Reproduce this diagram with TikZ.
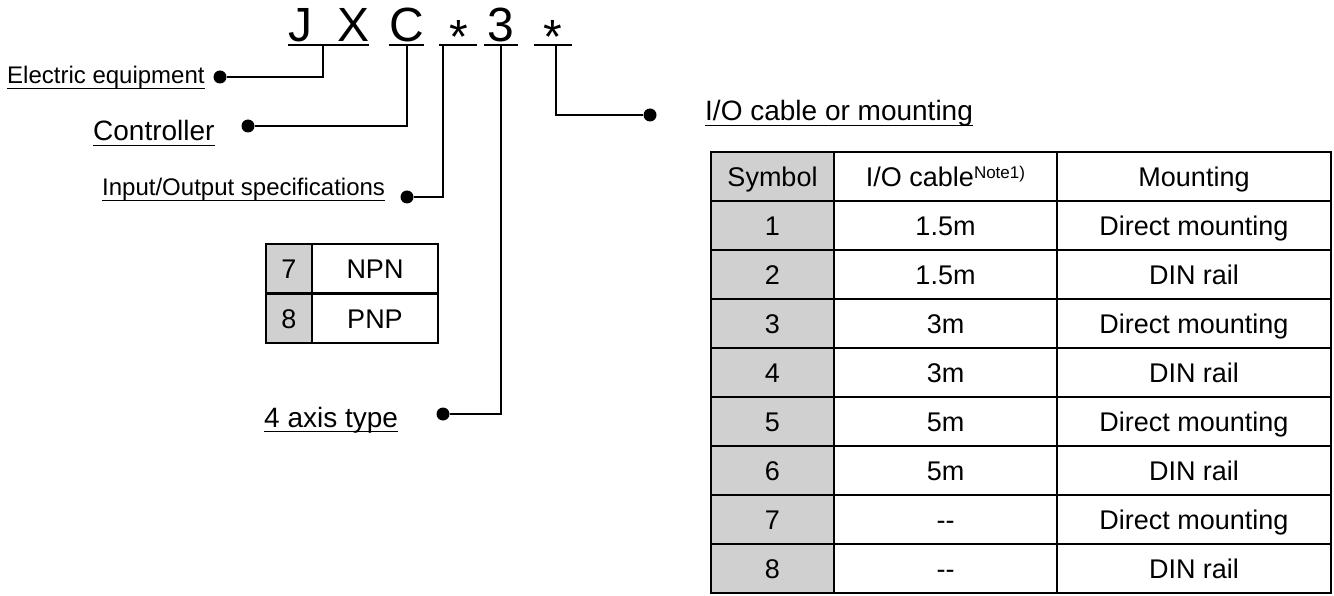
\documentclass[tikz,border=0pt]{standalone}
\usepackage{fontspec}
\setmainfont{Liberation Sans}
\definecolor{cellgray}{RGB}{208,208,208}
\newcommand\mydash{{-}{-}}
\begin{document}
\begin{tikzpicture}[x=1pt,y=-1pt,
  big/.style={font=\fontsize{48}{50}\selectfont, inner sep=0pt, anchor=base},
  lbl/.style={font=\fontsize{28}{30}\selectfont, inner sep=0pt, anchor=base west},
  lbls/.style={font=\fontsize{24}{26}\selectfont, inner sep=0pt, anchor=base west},
  cell/.style={font=\fontsize{27}{30}\selectfont, inner sep=0pt, anchor=base},
  uline/.style={line width=2pt},
  conn/.style={line width=2pt},
  grid/.style={line width=2.5pt},
  dot/.style={circle, fill=black, inner sep=0pt, minimum size=13pt}]
\useasboundingbox (0,0) rectangle (1334,596);

% code letters
\node[big] (cJ) at (300,42) {J};
\node[big] (cX) at (354,42) {X};
\node[big] (cC) at (407,42) {C};
\node[big] (cA1) at (459,42) {\raisebox{-12pt}{*}};
\node[big] (c3) at (501,42) {3};
\node[big] (cA2) at (553,42) {\raisebox{-12pt}{*}};
\draw[uline] (288,45.5) -- (369,45.5);
\draw[uline] (389,45.5) -- (424,45.5);
\draw[uline] (439,45.5) -- (477,45.5);
\draw[uline] (484,45.5) -- (518,45.5);
\draw[uline] (534,45.5) -- (572,45.5);

% stems
\coordinate (sJ) at (323,45.5);
\coordinate (sC) at (407,45.5);
\coordinate (sA1) at (443,45.5);
\coordinate (s3) at (501,45.5);
\coordinate (sA2) at (556,45.5);

% dots
\node[dot] (dE) at (220,77) {};
\node[dot] (dC) at (248,126) {};
\node[dot] (dI) at (407,197) {};
\node[dot] (dF) at (443,414) {};
\node[dot] (dO) at (650,115) {};

\draw[conn] (sJ) |- (dE);
\draw[conn] (sC) |- (dC);
\draw[conn] (sA1) |- (dI);
\draw[conn] (s3) |- (dF);
\draw[conn] (sA2) |- (dO);

% labels
\node[lbls] (tE) at (7,84) {Electric equipment};
\node[lbl] (tC) at (93,141) {Controller};
\node[lbls] (tI) at (102,196) {Input/Output specifications};
\node[lbl] (tF) at (264,427) {4 axis type};
\node[lbl] (tO) at (705,121) {I/O cable or mounting};
\foreach \n in {tE,tC,tI,tF,tO}{
  \draw[line width=1.8pt] ([yshift=-4.5pt]\n.base west) -- ([yshift=-4.5pt]\n.base east);
}

% NPN/PNP table
\fill[cellgray] (266,244) rectangle (312,343);
\draw[grid] (266,244) rectangle (438,343);
\draw[grid] (312,244) -- (312,343);
\draw[grid] (266,293.5) -- (438,293.5);
\node[cell] (n7) at (289,278.5) {7};
\node[cell] (nN) at (375,278.5) {NPN};
\node[cell] (n8) at (289,328) {8};
\node[cell] (nP) at (375,328) {PNP};

% I/O cable table
\fill[cellgray] (711,152) rectangle (834,593);
\foreach \i in {1,...,8}{
  \draw[grid] (711,152+49*\i) -- (1331,152+49*\i);
}
\draw[grid] (834,152) -- (834,593);
\draw[grid] (1057,152) -- (1057,593);
\draw[grid] (711,152) rectangle (1331,593);

\node[cell] (hS) at (772.5,186.2) {Symbol};
\node[cell] (hC) at (945.5,186.2) {I/O cable\raisebox{8pt}{\fontsize{17}{18}\selectfont Note1)}};
\node[cell] (hM) at (1194,186.2) {Mounting};
\foreach \i/\b/\c in {1/1.5m/Direct mounting, 2/1.5m/DIN rail, 3/3m/Direct mounting, 4/3m/DIN rail, 5/5m/Direct mounting, 6/5m/DIN rail, 7/\mydash/Direct mounting, 8/\mydash/DIN rail}{
  \node[cell] (ra\i) at (772.5,186.2+49*\i) {\i};
  \node[cell] (rb\i) at (945.5,186.2+49*\i) {\b};
  \node[cell] (rc\i) at (1194,186.2+49*\i) {\c};
}
\end{tikzpicture}
\end{document}
